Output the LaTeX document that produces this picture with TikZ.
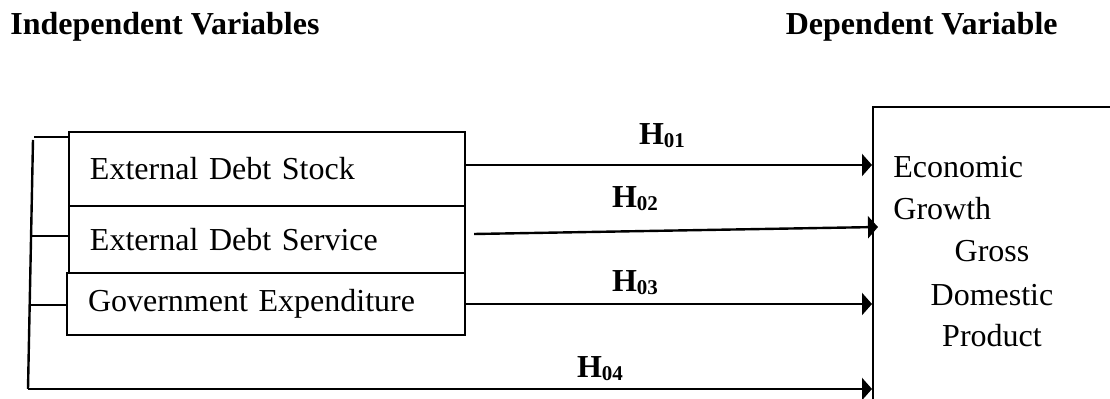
\documentclass[tikz,border=0pt]{standalone}
\usepackage{fontspec}
\setmainfont{Liberation Serif}
\usetikzlibrary{arrows.meta,calc}
% subscript of the hypothesis labels
\newcommand\hypsub[1]{\raisebox{-1.5pt}{\fontsize{10.5}{10.5}\selectfont #1}}
\begin{document}
\begin{tikzpicture}[x=0.5pt,y=-0.5pt,
  every node/.style={font=\fontsize{16}{19}\selectfont},
  box/.style={draw, line width=1.2pt, align=left, inner xsep=10.5pt, inner ysep=0pt, anchor=center},
  link/.style={line width=1.2pt},
  arr/.style={link,-{Triangle[length=5pt,width=11pt]}},
  hyp/.style={font=\fontsize{16}{19}\selectfont\bfseries, anchor=base, inner sep=0pt},
  head/.style={font=\fontsize{16}{19}\selectfont\bfseries, inner sep=0pt},
  dvt/.style={inner sep=0pt}]
\useasboundingbox (0,0) rectangle (1110,399);
\clip (0,0) rectangle (1110,399);

% headings
\node[head, anchor=base west] (iv) at (10,35) {Independent Variables};
\node[head, anchor=base east] (dvh) at (1058,35) {Dependent Variable};

% independent variables
\node[box, text width=177pt, minimum height=37pt] (b1) at (267,169) {External Debt Stock};
\node[box, text width=177pt, minimum height=33.5pt] (b2) at (267,239.5) {External Debt Service};
\node[box, text width=178pt, minimum height=31pt] (b3) at (266,304) {Government Expenditure};

% dependent variable box (runs off the page to the right and bottom)
\node[draw, line width=1.2pt, anchor=north west, minimum width=150pt, minimum height=160pt, inner sep=0pt] (dv) at (872,106) {};
\node[dvt, anchor=base west] (e1) at (893,178) {Economic};
\node[dvt, anchor=base west] (e2) at (893,220) {Growth};
\node[dvt, anchor=base] (g1) at (992,262) {Gross};
\node[dvt, anchor=base] (g2) at (992,306) {Domestic};
\node[dvt, anchor=base] (g3) at (992,347) {Product};

% bracket joining the three variables
\coordinate (bt) at (33,140);
\coordinate (bb) at (28,389);
\coordinate (tk) at (34,137);
\draw[link] (bt) -- (bb);
\draw[link] (tk) -- (tk -| b1.west);
\coordinate (m2) at ($(bt)!0.386!(bb)$);
\coordinate (m3) at ($(bt)!0.663!(bb)$);
\draw[link] (m2) -- (m2 -| b2.west);
\draw[link] (m3) -- (m3 -| b3.west);

% hypothesis arrows
\coordinate (s1) at ([yshift=2pt]b1.east);
\draw[arr] (s1) -- (s1 -| dv.west);
\coordinate (s2) at ([xshift=4pt,yshift=2.75pt]b2.east);
\draw[arr] (s2) -- ($(s2 -| dv.west)+(6,-7)$);
\coordinate (s3) at (b3.east);
\draw[arr] (s3) -- (s3 -| dv.west);
\draw[arr] (bb) -- (bb -| dv.west);

% hypothesis labels
\node[hyp] (h1) at (662,145) {H\hypsub{01}};
\node[hyp] (h2) at (635,208) {H\hypsub{02}};
\node[hyp] (h3) at (635,292) {H\hypsub{03}};
\node[hyp] (h4) at (600,378) {H\hypsub{04}};
\end{tikzpicture}
\end{document}
